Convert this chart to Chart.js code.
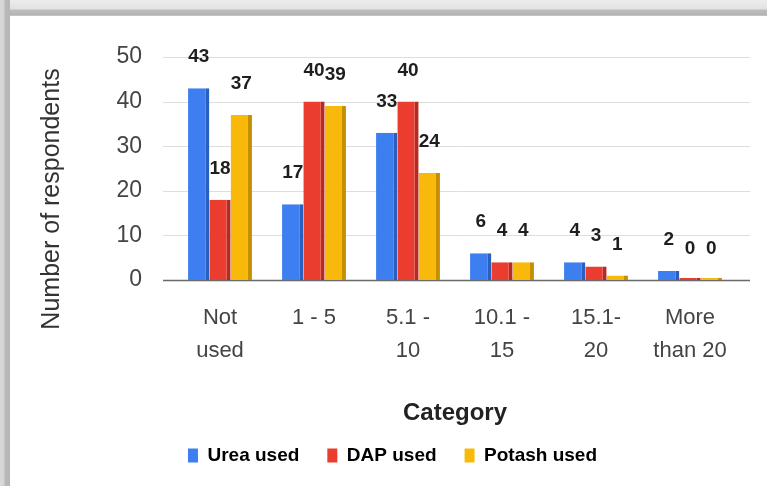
<!DOCTYPE html>
<html>
<head>
<meta charset="utf-8">
<script src="https://cdn.jsdelivr.net/npm/chart.js@4"></script>
<style>
    html, body { margin: 0; padding: 0; background: #fff; }
    .frame {
        position: relative;
        width: 767px;
        height: 486px;
        overflow: hidden;
        background: #fff;
    }
    /* bande grise du haut + bord gauche (capture d'écran) */
    .top_band {
        position: absolute; left: 0; top: 0; width: 767px; height: 16px;
        background: linear-gradient(#ececec 0, #e2e2e2 9px, #bdbdbd 10px, #b4b4b4 15px, #d0d0d0 16px);
    }
    .left_band {
        position: absolute; left: 0; top: 0; width: 10px; height: 486px;
        background: linear-gradient(90deg, #d9d9d9 0, #d4d4d4 4px, #b9b9b9 5px, #b6b6b6 10px);
    }
    .chart_box {
        position: absolute; left: 10px; top: 16px; width: 757px; height: 470px;
    }
</style>
</head>
<body>
<div class="frame">
    <div class="top_band"></div>
    <div class="left_band"></div>
    <div class="chart_box"><canvas id="myChart" width="757" height="470"></canvas></div>
</div>

<script>
// Données
const categories = [["Not", "used"], "1 - 5", ["5.1 -", "10"], ["10.1 -", "15"], ["15.1-", "20"], ["More", "than 20"]];
const ureaUsed = [43, 17, 33, 6, 4, 2];
const dapUsed = [18, 40, 40, 4, 3, 0];
const potashUsed = [37, 39, 24, 4, 1, 0];
const yTicks = [0, 10, 20, 30, 40, 50];
const yTitle = "Number of respondents";
const xTitle = "Category";

const FONT = '"Liberation Sans", Arial, sans-serif';

// Lignes de grille un peu plus longues que la zone du graphique
const gridLines = {
    id: 'gridLines',
    beforeDatasetsDraw(chart) {
        const ctx = chart.ctx;
        const y = chart.scales.y;
        const left = chart.chartArea.left - 10;
        const right = chart.chartArea.right + 13;
        ctx.save();
        yTicks.forEach(v => {
            const py = Math.round(y.getPixelForValue(v)) + 0.5;
            ctx.strokeStyle = v === 0 ? '#6a6a6a' : '#dedede';
            ctx.lineWidth = v === 0 ? 1.5 : 1;
            ctx.beginPath();
            ctx.moveTo(left, py);
            ctx.lineTo(right, py);
            ctx.stroke();
        });
        ctx.restore();
    }
};

// Titres des axes (placés à la main comme dans l'original)
const axisTitles = {
    id: 'axisTitles',
    afterDraw(chart) {
        const ctx = chart.ctx;
        const area = chart.chartArea;
        ctx.save();
        ctx.fillStyle = '#222';
        ctx.textAlign = 'center';
        ctx.textBaseline = 'middle';
        ctx.font = 'bold 24px ' + FONT;
        ctx.fillText(xTitle, (area.left + area.right) / 2, 397);

        ctx.translate(42, 183);
        ctx.rotate(-Math.PI / 2);
        ctx.font = '25px ' + FONT;
        ctx.fillStyle = '#333';
        ctx.fillText(yTitle, 0, 0);
        ctx.restore();
    }
};

// Etiquettes de valeur au-dessus des barres
const valueLabels = {
    id: 'valueLabels',
    afterDatasetsDraw(chart) {
        const ctx = chart.ctx;
        ctx.save();
        ctx.font = 'bold 19px ' + FONT;
        ctx.fillStyle = '#1e1e1e';
        ctx.textAlign = 'center';
        ctx.textBaseline = 'middle';
        chart.data.datasets.forEach((ds, i) => {
            const meta = chart.getDatasetMeta(i);
            meta.data.forEach((bar, j) => {
                const topY = chart.scales.y.getPixelForValue(ds.data[j]);
                ctx.fillText(String(ds.data[j]), bar.x, topY - 31);
            });
        });
        ctx.restore();
    }
};

const canvas = document.getElementById('myChart');
const ctx = canvas.getContext('2d');

const chart = new Chart(ctx, {
    type: 'bar',
    data: {
        labels: categories,
        datasets: [
            { label: "Urea used", data: ureaUsed, backgroundColor: '#3d7ff0', borderColor: '#2b5fbf' },
            { label: "DAP used", data: dapUsed, backgroundColor: '#ea3d30', borderColor: '#b32c23' },
            { label: "Potash used", data: potashUsed, backgroundColor: '#f9b90a', borderColor: '#c48f00' }
        ]
    },
    options: {
        responsive: false,
        animation: false,
        layout: { padding: { left: 38, right: 30, top: 41, bottom: 11 } },
        datasets: {
            bar: {
                categoryPercentage: 0.68,
                barPercentage: 1.0,
                borderWidth: { top: 0, left: 0, bottom: 0, right: 4 },
                borderSkipped: false,
                minBarLength: 2
            }
        },
        scales: {
            x: {
                afterFit: (axis) => { axis.height = 138; },
                grid: { display: false, drawTicks: false },
                border: { display: false },
                ticks: {
                    color: '#444',
                    padding: 22,
                    maxRotation: 0,
                    autoSkip: false,
                    font: { family: FONT, size: 22, lineHeight: 1.48 }
                }
            },
            y: {
                min: 0,
                max: 50,
                afterBuildTicks: (axis) => { axis.ticks = yTicks.map(v => ({ value: v })); },
                afterFit: (axis) => { axis.width = 125; },
                grid: { display: false, drawTicks: false },
                border: { display: false },
                ticks: {
                    color: '#444',
                    padding: 31,
                    // lineHeight réduit : évite la marge haute ajoutée par Chart.js
                    font: { family: FONT, size: 23, lineHeight: 0.6 }
                }
            }
        },
        plugins: {
            legend: {
                position: 'bottom',
                labels: {
                    boxWidth: 10,
                    boxHeight: 14,
                    padding: 28,
                    color: '#222',
                    font: { family: FONT, size: 19, weight: 'bold' },
                    generateLabels: (c) => c.data.datasets.map((ds, i) => ({
                        text: ds.label,
                        fillStyle: ds.backgroundColor,
                        strokeStyle: ds.backgroundColor,
                        lineWidth: 0,
                        datasetIndex: i
                    }))
                }
            },
            tooltip: { enabled: false }
        }
    },
    plugins: [gridLines, valueLabels, axisTitles]
});
</script>
</body>
</html>
